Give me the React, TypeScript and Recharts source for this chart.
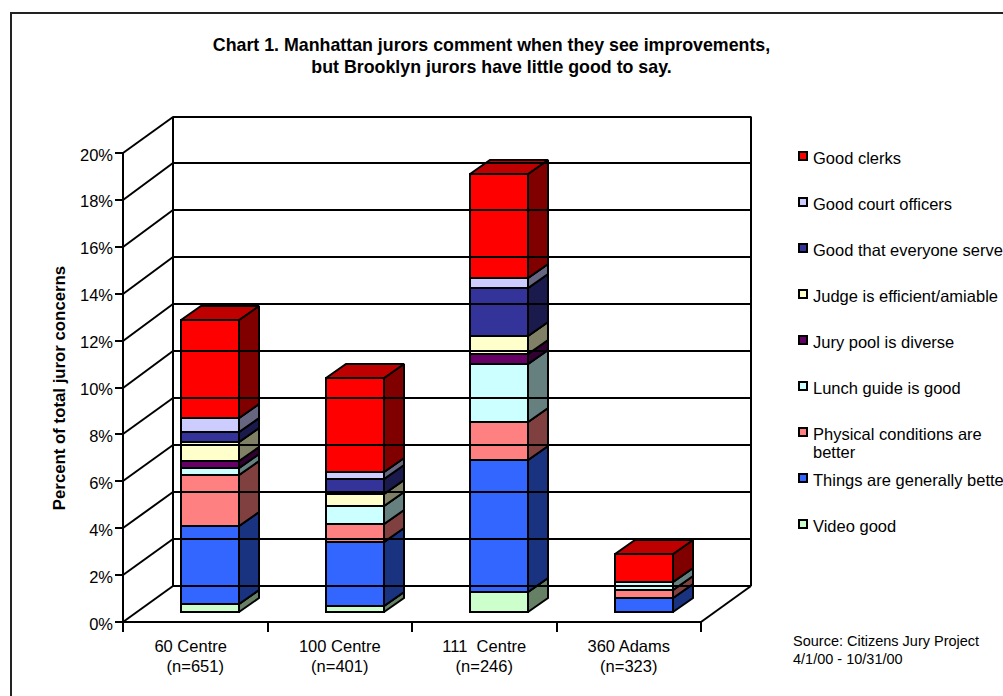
import { Bar, BarChart, Legend, XAxis, YAxis } from "recharts";

const CATEGORIES = ["60 Centre\u00a0\u00a0", "100 Centre", "111\u00a0 Centre", "360 Adams"];
const RESPONDENTS = ["(n=651)", "(n=401)", "(n=246)", "(n=323)"];
const Y_TICKS = [0, 2, 4, 6, 8, 10, 12, 14, 16, 18, 20];

const VIDEO_GOOD = [0.36, 0.27, 0.85, 0];
const THINGS_BETTER = [3.3, 2.72, 5.63, 0.6];
const PHYSICAL_BETTER = [2.2, 0.77, 1.62, 0.34];
const LUNCH_GUIDE = [0.26, 0.77, 2.47, 0.34];
const JURY_POOL = [0.34, 0, 0.43, 0];
const JUDGE = [0.77, 0.51, 0.77, 0];
const EVERYONE_SERVES = [0.43, 0.65, 2.05, 0];
const COURT_OFFICERS = [0.6, 0.3, 0.43, 0];
const GOOD_CLERKS = [4.18, 4.0, 4.43, 1.19];

// bottom of the stack first
const SERIES = [
  { key: "video", name: "Video good", values: VIDEO_GOOD, color: "#CCFFCC" },
  { key: "things", name: "Things are generally better", values: THINGS_BETTER, color: "#3366FF" },
  { key: "physical", name: "Physical conditions are better", values: PHYSICAL_BETTER, color: "#FF8080" },
  { key: "lunch", name: "Lunch guide is good", values: LUNCH_GUIDE, color: "#CCFFFF" },
  { key: "jury", name: "Jury pool is diverse", values: JURY_POOL, color: "#660066" },
  { key: "judge", name: "Judge is efficient/amiable", values: JUDGE, color: "#FFFFCC" },
  { key: "everyone", name: "Good that everyone serves", values: EVERYONE_SERVES, color: "#333399" },
  { key: "officers", name: "Good court officers", values: COURT_OFFICERS, color: "#CCCCFF" },
  { key: "clerks", name: "Good clerks", values: GOOD_CLERKS, color: "#FF0000" },
];

const chartData = CATEGORIES.map((category, i) => {
  const row: Record<string, string | number> = { category, respondents: RESPONDENTS[i] };
  SERIES.forEach((s) => {
    row[s.key] = s.values[i];
  });
  return row;
});

const FONT = "'Liberation Sans', Arial, sans-serif";
const INK = "#000";
const LABEL_SIZE = 16.5;

const PLOT_LEFT = 123;
const PLOT_RIGHT = 701;
const PLOT_TOP = 153;
const PLOT_BOTTOM = 622;
const BAND = (PLOT_RIGHT - PLOT_LEFT) / CATEGORIES.length;

// oblique offset of the back wall from the front plane
const WALL_DX = 50;
const WALL_DY = -36.5;
// where the columns stand on the floor, and how deep they are
const SEAT_DX = 15;
const SEAT_DY = -10;
const BAR_DX = 20;
const BAR_DY = -14;

function shade(hex: string, factor: number) {
  const n = parseInt(hex.slice(1), 16);
  const part = (v: number) => Math.round(v * factor);
  return `rgb(${part((n >> 16) & 255)},${part((n >> 8) & 255)},${part(n & 255)})`;
}

function Column3D(props: any) {
  const { x, y, width, height, fill } = props;
  if (!height || height <= 0) return null;
  // snap to whole pixels so the outlines stay crisp
  const left = Math.round(x + SEAT_DX);
  const right = Math.round(x + SEAT_DX + width);
  const top = Math.round(y + SEAT_DY);
  const bottom = Math.round(y + SEAT_DY + height);
  const line = { stroke: INK, strokeWidth: 2, strokeLinejoin: "miter" as const, strokeMiterlimit: 2 };
  return (
    <g>
      <polygon
        points={`${right},${top} ${right + BAR_DX},${top + BAR_DY} ${right + BAR_DX},${bottom + BAR_DY} ${right},${bottom}`}
        fill={shade(fill, 0.5)}
        {...line}
      />
      <polygon
        points={`${left},${top} ${left + BAR_DX},${top + BAR_DY} ${right + BAR_DX},${top + BAR_DY} ${right},${top}`}
        fill={shade(fill, 0.75)}
        {...line}
      />
      <rect x={left} y={top} width={right - left} height={bottom - top} fill={fill} {...line} />
    </g>
  );
}

// each value tick also carries its line across the side and back walls
function WallTick(props: any) {
  const { y, payload } = props;
  const frontY = Math.round(y);
  const backX = PLOT_LEFT + WALL_DX;
  const backY = Math.round(y + WALL_DY);
  const line = { stroke: INK, strokeWidth: 2 };
  return (
    <g>
      <line x1={PLOT_LEFT - 8} y1={frontY} x2={PLOT_LEFT} y2={frontY} {...line} />
      <line x1={PLOT_LEFT} y1={frontY} x2={backX} y2={backY} {...line} />
      <line x1={backX} y1={backY} x2={PLOT_RIGHT + WALL_DX} y2={backY} {...line} />
      {payload.value === 0 ? (
        <>
          <line x1={backX} y1={backY} x2={backX} y2={PLOT_TOP + WALL_DY} {...line} />
          <line
            x1={PLOT_RIGHT + WALL_DX}
            y1={backY}
            x2={PLOT_RIGHT + WALL_DX}
            y2={PLOT_TOP + WALL_DY}
            {...line}
          />
          <line x1={PLOT_RIGHT} y1={frontY} x2={PLOT_RIGHT + WALL_DX} y2={backY} {...line} />
        </>
      ) : null}
      <text x={PLOT_LEFT - 10} y={y + 7.5} textAnchor="end" fontSize={LABEL_SIZE} fontFamily={FONT} fill={INK}>
        {payload.value}%
      </text>
    </g>
  );
}

function CategoryTick(props: any) {
  const { x, payload, index } = props;
  const tickTop = PLOT_BOTTOM;
  const tickLeft = Math.round(x - BAND / 2);
  const tickRight = Math.round(x + BAND / 2);
  return (
    <g>
      <line x1={tickLeft} y1={tickTop} x2={tickLeft} y2={tickTop + 10} stroke={INK} strokeWidth={2} />
      {index === CATEGORIES.length - 1 ? (
        <line x1={tickRight} y1={tickTop} x2={tickRight} y2={tickTop + 10} stroke={INK} strokeWidth={2} />
      ) : null}
      <text textAnchor="middle" fontSize={LABEL_SIZE} fontFamily={FONT} fill={INK}>
        <tspan x={x} y={652}>
          {payload.value}
        </tspan>
        <tspan x={x} y={672}>
          {RESPONDENTS[index]}
        </tspan>
      </text>
    </g>
  );
}

function JurorLegend({ payload }: any) {
  return (
    <div style={{ position: "relative", width: 205, fontFamily: FONT, fontSize: LABEL_SIZE, lineHeight: "18px", color: INK }}>
      {(payload ?? []).map((entry: any, i: number) => (
        <div key={entry.value} style={{ position: "absolute", left: 0, top: i * 46, width: 220 }}>
          <span
            style={{
              position: "absolute",
              left: 0,
              top: 2,
              width: 6,
              height: 6,
              border: "2px solid #000",
              background: entry.color,
            }}
          />
          <div style={{ marginLeft: 15 }}>{entry.value}</div>
        </div>
      ))}
    </div>
  );
}

export default function App() {
  return (
    <div
      style={{
        position: "absolute",
        left: 0,
        top: 0,
        width: 1003,
        height: 696,
        overflow: "hidden",
        background: "#fff",
        fontFamily: FONT,
        color: INK,
      }}
    >
      <div
        style={{
          position: "absolute",
          left: 10,
          top: 12,
          width: 1100,
          height: 800,
          borderLeft: "2px solid #222",
          borderTop: "2px solid #222",
        }}
      />
      <div
        style={{
          position: "absolute",
          left: 0,
          top: 34,
          width: 983,
          textAlign: "center",
          fontSize: 17.8,
          lineHeight: "22px",
          fontWeight: 700,
        }}
      >
        Chart 1. Manhattan jurors comment when they see improvements,
        <br />
        but Brooklyn jurors have little good to say.
      </div>
      <BarChart
        width={1003}
        height={696}
        data={chartData}
        margin={{ top: PLOT_TOP, left: PLOT_LEFT - 60, right: 1003 - PLOT_RIGHT, bottom: 24 }}
        barSize={58}
        style={{ position: "absolute", left: 0, top: 0 }}
      >
        <XAxis
          dataKey="category"
          height={50}
          interval={0}
          tickLine={false}
          axisLine={{ stroke: INK, strokeWidth: 2 }}
          tick={<CategoryTick />}
        />
        <YAxis
          width={60}
          domain={[0, 20]}
          ticks={Y_TICKS}
          interval={0}
          tickLine={false}
          axisLine={{ stroke: INK, strokeWidth: 2 }}
          tick={<WallTick />}
          zIndex={-1}
        />
        <Legend
          layout="vertical"
          verticalAlign="middle"
          align="center"
          itemSorter="value"
          wrapperStyle={{ position: "absolute", left: 798, top: 149, width: 205 }}
          content={<JurorLegend />}
        />
        {SERIES.map((s) => (
          <Bar
            key={s.key}
            dataKey={s.key}
            name={s.name}
            stackId="jurors"
            fill={s.color}
            isAnimationActive={false}
            shape={<Column3D />}
          />
        ))}
        <text
          transform="translate(65 388) rotate(-90)"
          textAnchor="middle"
          fontSize={16.8}
          fontWeight={700}
          fontFamily={FONT}
          fill={INK}
        >
          Percent of total juror concerns
        </text>
      </BarChart>
      <div
        style={{
          position: "absolute",
          left: 793,
          top: 632,
          fontSize: 14.5,
          lineHeight: "18px",
          whiteSpace: "nowrap",
        }}
      >
        Source: Citizens Jury Project
        <br />
        4/1/00 - 10/31/00
      </div>
    </div>
  );
}
